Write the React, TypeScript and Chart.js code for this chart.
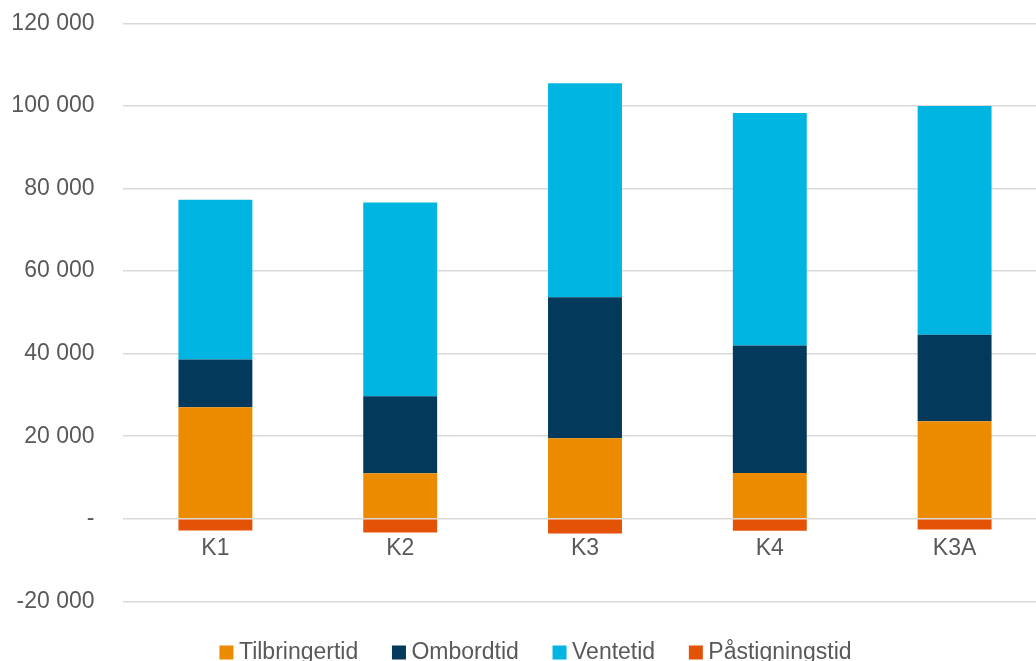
import React, { useEffect, useRef } from "react";
import { Chart, registerables } from "chart.js";

Chart.register(...registerables);

// Travel-time components per alternative (stacked; boarding time goes below zero)
const categories = ["K1", "K2", "K3", "K4", "K3A"];
const tilbringertid = [27000, 11000, 19500, 11100, 23600];
const ombordtid = [11600, 18700, 34200, 30900, 21000];
const ventetid = [38700, 46900, 51800, 56300, 55400];
const pastigningstid = [-2850, -3300, -3550, -2900, -2600];

// Y axis ticks and their printed labels
const yTickValues = [-20000, 0, 20000, 40000, 60000, 80000, 100000, 120000];
const yTickLabels = ["-20 000", "-", "20 000", "40 000", "60 000", "80 000", "100 000", "120 000"];

const TEXT_COLOR = "#595959";
const FONT_FAMILY = "'Liberation Sans', Arial, sans-serif";

// Nudges the legend row a little to the right of the canvas centre
const legendOffset = {
  id: "legendOffset",
  afterLayout(chart: any) {
    if (chart.legend) chart.legend.left += 30;
  },
};

export default function App() {
  const canvasRef = useRef<HTMLCanvasElement | null>(null);

  useEffect(() => {
    const canvas = canvasRef.current;
    if (!canvas) return;

    const chart = new Chart(canvas, {
      type: "bar",
      data: {
        labels: categories,
        datasets: [
          { label: "Tilbringertid", data: tilbringertid, backgroundColor: "#EC8A00" },
          { label: "Ombordtid", data: ombordtid, backgroundColor: "#03395B" },
          { label: "Ventetid", data: ventetid, backgroundColor: "#00B5E2" },
          { label: "Påstigningstid", data: pastigningstid, backgroundColor: "#E35205" },
        ],
      },
      plugins: [legendOffset],
      options: {
        animation: false,
        responsive: true,
        maintainAspectRatio: false,
        devicePixelRatio: 1,
        datasets: {
          bar: { barPercentage: 1, categoryPercentage: 0.4, borderWidth: 0 },
        },
        layout: { padding: { top: 23.5, left: 0, right: 0, bottom: 0 } },
        plugins: {
          tooltip: { enabled: false },
          legend: {
            position: "bottom",
            labels: {
              usePointStyle: true,
              pointStyle: "rect",
              boxWidth: 2,
              boxHeight: 14,
              padding: 39.7,
              color: TEXT_COLOR,
              font: { family: FONT_FAMILY, size: 23 },
            },
          },
        },
        scales: {
          x: {
            type: "category",
            position: { y: 0 },
            stacked: true,
            grid: { display: false },
            border: { display: false },
            ticks: {
              padding: 8,
              color: TEXT_COLOR,
              font: { family: FONT_FAMILY, size: 23 },
            },
          },
          y: {
            stacked: true,
            min: -20000,
            max: 120000,
            afterFit: (scale: any) => {
              scale.width = 123;
              scale.paddingTop = 0;
              scale.paddingBottom = 0;
            },
            afterBuildTicks: (scale: any) => {
              scale.ticks = yTickValues.map((value) => ({ value }));
            },
            grid: { color: "#d9d9d9", lineWidth: 1.5, drawTicks: false },
            border: { display: false },
            ticks: {
              padding: 28.5,
              color: TEXT_COLOR,
              font: { family: FONT_FAMILY, size: 23 },
              callback: (value: any) => {
                const i = yTickValues.indexOf(Number(value));
                return i >= 0 ? yTickLabels[i] : "";
              },
            },
          },
        },
      },
    });

    return () => chart.destroy();
  }, []);

  return (
    <div
      style={{
        position: "fixed",
        left: 0,
        top: 0,
        width: 1036,
        height: 661,
        overflow: "hidden",
        background: "#ffffff",
      }}
    >
      <div style={{ position: "relative", width: 1047, height: 674 }}>
        <canvas ref={canvasRef} />
      </div>
    </div>
  );
}
